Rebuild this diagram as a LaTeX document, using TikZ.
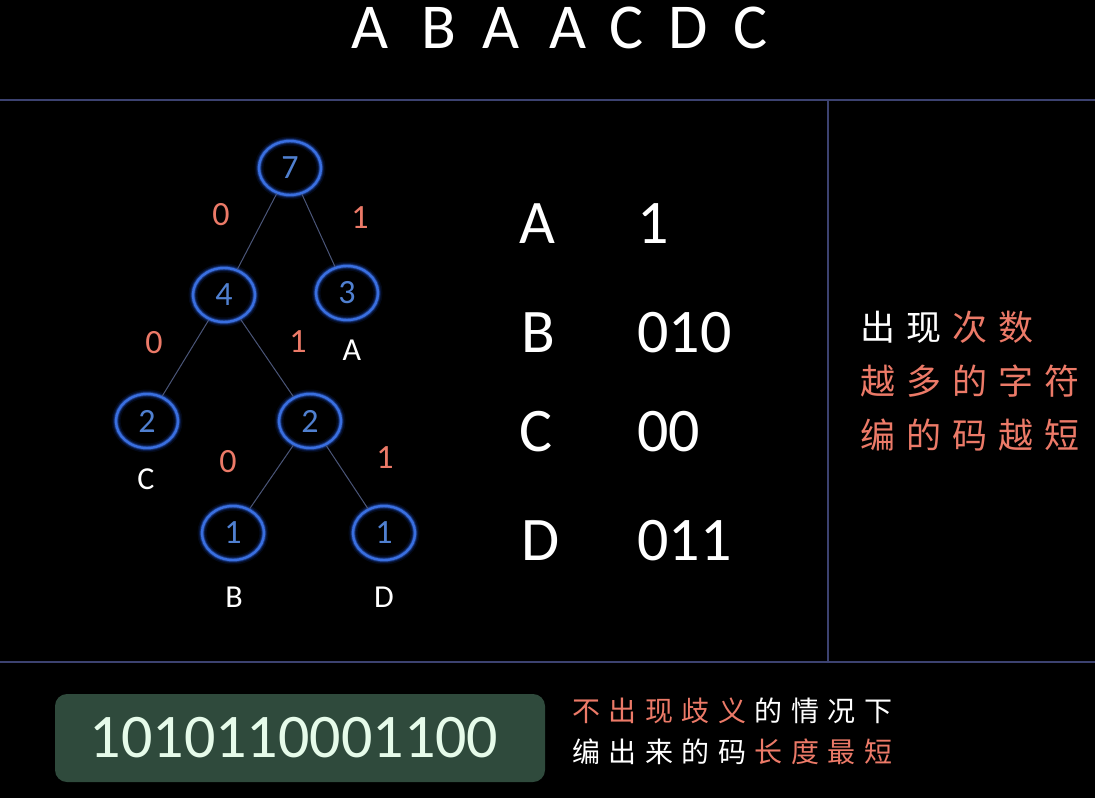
\documentclass[tikz,border=0pt]{standalone}
\usepackage{fontspec}
\setmainfont{Carlito}
\newfontfamily\cjk{Noto Sans CJK SC}
\usetikzlibrary{shapes.geometric}
\definecolor{salmon}{HTML}{EC7A68}
\definecolor{nodeblue}{HTML}{3A6FE0}
\definecolor{glowblue}{HTML}{1E4FD0}
\definecolor{numblue}{HTML}{5080D0}
\definecolor{sepline}{HTML}{3C4270}
\definecolor{edgecol}{HTML}{4A5578}
\definecolor{boxgreen}{HTML}{2F4A3C}
\definecolor{mint}{HTML}{E6FBEA}
\newcommand\gapR{\hspace{11pt}}
\newcommand\gapB{\hspace{8.5pt}}
\tikzset{
  tnode/.style={ellipse, draw=nodeblue, line width=2.4pt, minimum width=62pt, minimum height=54pt, inner sep=0pt,
    text=numblue, font=\fontsize{34}{34}\selectfont,
    preaction={draw=glowblue, line width=9pt, draw opacity=0.12},
    preaction={draw=glowblue, line width=6pt, draw opacity=0.25},
    preaction={draw=nodeblue, line width=4pt, draw opacity=0.4}},
  bit/.style={text=salmon, font=\fontsize{34}{34}\selectfont, inner sep=0pt},
  leaf/.style={text=white, font=\fontsize{32}{32}\selectfont, inner sep=0pt},
  titlel/.style={text=white, font=\fontsize{64}{64}\selectfont, inner sep=0pt, anchor=base},
  tabl/.style={text=white, font=\fontsize{62}{62}\selectfont, inner sep=0pt, anchor=base west},
  edge/.style={draw=edgecol, line width=1pt},
  sep/.style={draw=sepline, line width=1.5pt},
  cjkR/.style={font=\cjk\fontsize{35}{35}\selectfont, inner sep=0pt, anchor=west, text height=0.8em, text depth=0.2em},
  cjkB/.style={font=\cjk\fontsize{28}{28}\selectfont, inner sep=0pt, anchor=west, text height=0.8em, text depth=0.2em},
}
\begin{document}
\begin{tikzpicture}[x=1pt,y=-1pt]
\fill[black] (0,0) rectangle (1095,798);
\useasboundingbox (0,0) rectangle (1095,798);
% separators
\coordinate (h1l) at (0,100); \coordinate (h1r) at (1095,100);
\coordinate (h2l) at (0,662); \coordinate (h2r) at (1095,662);
\coordinate (vt) at (828,100); \coordinate (vb) at (828,662);
\draw[sep] (h1l) -- (h1r);
\draw[sep] (h2l) -- (h2r);
\draw[sep] (vt) -- (vb);
% title
\node[titlel] (t1) at (370,48) {A};
\node[titlel] (t2) at (439,48) {B};
\node[titlel] (t3) at (501,48) {A};
\node[titlel] (t4) at (568,48) {A};
\node[titlel] (t5) at (627,48) {C};
\node[titlel] (t6) at (688,48) {D};
\node[titlel] (t7) at (751,48) {C};
% tree
\node[tnode] (n7) at (290,168) {7};
\node[tnode] (n4) at (224,295) {4};
\node[tnode] (n3) at (347,293) {3};
\node[tnode] (n2a) at (147,421) {2};
\node[tnode] (n2b) at (310,421) {2};
\node[tnode] (n1a) at (233,533) {1};
\node[tnode] (n1b) at (384,533) {1};
\draw[edge] (n7) -- (n4);
\draw[edge] (n7) -- (n3);
\draw[edge] (n4) -- (n2a);
\draw[edge] (n4) -- (n2b);
\draw[edge] (n2b) -- (n1a);
\draw[edge] (n2b) -- (n1b);
\node[bit] (b1) at (221,215) {0};
\node[bit] (b2) at (360,218) {1};
\node[bit] (b3) at (154,343) {0};
\node[bit] (b4) at (298,342) {1};
\node[bit] (b5) at (228,462) {0};
\node[bit] (b6) at (385,458) {1};
\node[leaf] (lA) at (352,350) {A};
\node[leaf] (lC) at (146,479) {C};
\node[leaf] (lB) at (234,597) {B};
\node[leaf] (lD) at (384,597) {D};
% table
\node[tabl] (kA) at (519,243) {A};
\node[tabl] (kB) at (521,352) {B};
\node[tabl] (kC) at (519,451) {C};
\node[tabl] (kD) at (521,560) {D};
\node[tabl] (cA) at (637,243) {1};
\node[tabl] (cB) at (637,352) {010};
\node[tabl] (cC) at (637,451) {00};
\node[tabl] (cD) at (637,560) {011};
% right text
\node[cjkR] (r1) at (860,337) {\textcolor{white}{出\gapR 现}\gapR\textcolor{salmon}{次\gapR 数}};
\node[cjkR] (r2) at (860,391) {\textcolor{salmon}{越\gapR 多\gapR 的\gapR 字\gapR 符}};
\node[cjkR] (r3) at (860,445) {\textcolor{salmon}{编\gapR 的\gapR 码\gapR 越\gapR 短}};
% bottom
\node[draw=none, fill=boxgreen, rounded corners=12pt, minimum width=490pt, minimum height=88pt, inner sep=0pt] (box) at (300,738) {};
\node[text=mint, font=\fontsize{62}{62}\selectfont, inner sep=0pt, anchor=base] (code) at (294,757) {1010110001100};
\node[cjkB] (s1) at (572,718) {\textcolor{salmon}{不\gapB 出\gapB 现\gapB 歧\gapB 义}\gapB\textcolor{white}{的\gapB 情\gapB 况\gapB 下}};
\node[cjkB] (s2) at (572,759) {\textcolor{white}{编\gapB 出\gapB 来\gapB 的\gapB 码}\gapB\textcolor{salmon}{长\gapB 度\gapB 最\gapB 短}};
\end{tikzpicture}
\end{document}
